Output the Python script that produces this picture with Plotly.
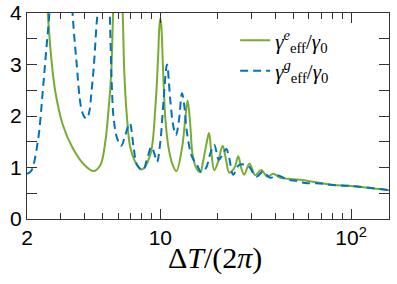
import plotly.graph_objects as go
import numpy as np

# ---- data (x = ΔT/(2π), y = γ_eff/γ0) ----
x_e = [2.52, 2.57, 2.68, 2.81, 3.08, 3.47, 4.00, 4.46, 4.85, 5.15, 5.36, 5.52, 5.63,
       5.72, 5.95, 6.22, 6.35, 6.48, 6.69, 6.97, 7.55, 8.02, 8.86, 9.41, 9.73, 9.88,
       10.0, 10.14, 10.28, 10.62, 11.05, 11.51, 12.13, 12.99, 13.52, 13.90, 14.35,
       14.76, 15.43, 16.2, 16.73, 17.41, 17.99, 18.49, 19.17, 20.12, 21.2, 22.1,
       22.98, 24.5, 25.61, 26.5, 27.54, 29.3, 31.44, 33.8, 36.33, 39.05, 42.5,
       46.8, 54.08, 68.82, 80.5, 100, 158]
y_e = [4.5, 4.0, 3.13, 2.49, 1.83, 1.38, 1.05, 0.93, 1.05, 1.51, 2.15, 2.8, 3.77,
       4.8, 7.0, 4.8, 4.0, 2.8, 1.96, 1.38, 1.05, 0.96, 1.25, 2.15, 3.13, 3.72,
       3.9, 3.7, 3.13, 1.96, 1.38, 1.09, 0.93, 1.38, 1.96, 2.30, 1.83,
       1.25, 0.99, 0.91, 1.11, 1.44, 1.67, 1.31, 0.95, 1.12, 1.42, 1.15,
       0.90, 1.0, 1.22, 1.0, 0.86, 1.08, 0.85, 0.95, 0.82, 0.88, 0.80,
       0.78, 0.76, 0.70, 0.66, 0.64, 0.56]

x_g = [2.0, 2.10, 2.28, 2.42, 2.52, 2.62, 2.75, 3.0, 3.3, 3.48, 3.62, 3.85, 4.00,
       4.12, 4.25, 4.35, 4.48, 4.62, 4.68, 4.8, 5.05, 5.3, 5.43, 5.58, 5.69, 5.93,
       6.23, 6.56, 6.91, 7.25, 7.55, 8.1, 8.5, 8.97, 9.25, 9.61, 10.0, 10.4, 10.84,
       11.28, 11.7, 12.08, 12.5, 12.99, 13.35, 13.8, 14.65, 15.56, 16.39, 17.41,
       18.2, 19.17, 20.25, 21.2, 22.16, 22.98, 24.11, 25.9, 28.9, 31.82, 34.5,
       37.67, 41, 46.8, 52, 57.4, 68.82, 80.5, 100, 158]
y_g = [0.88, 0.93, 1.51, 2.49, 3.26, 4.0, 5.5, 8.0, 5.5, 3.9, 3.13, 2.15, 1.98,
       1.95, 2.1, 2.45, 2.96, 3.73, 4.0, 5.2, 7.0, 5.2, 4.0, 2.49, 1.96, 1.57,
       1.42, 1.64, 1.86, 1.38, 1.05, 0.95, 1.15, 1.4, 1.3, 1.11, 1.5, 2.31, 3.0,
       2.3, 1.8, 1.63, 1.9, 2.44, 2.2, 1.67, 1.21, 1.05, 0.91, 1.0,
       1.25, 1.44, 1.15, 1.25, 1.36, 1.18, 0.86, 1.05, 1.03, 0.82, 0.92,
       0.80, 0.85, 0.76, 0.74, 0.70, 0.69, 0.66, 0.64, 0.56]

x_ticks = [2, 10, 100]
x_ticklabels = ["2", "10", "10<sup>2</sup>"]
x_minor = [3, 4, 5, 6, 7, 8, 9, 20, 30, 40, 50, 60, 70, 80, 90]
y_ticks = [0, 1, 2, 3, 4]
y_ticklabels = ["0", "1", "2", "3", "4"]
y_minor = [0.5, 1.5, 2.5, 3.5]
x_title = "Δ<i>T</i>/(2<i>π</i>)"

GREEN = "#77AC30"
BLUE = "#0072BD"
AX = "#333333"

fig = go.Figure()
fig.add_trace(go.Scatter(
    x=x_e, y=y_e, mode="lines", legendgroup="e",
    line=dict(color=GREEN, width=2, shape="spline", smoothing=1.0),
    name="<i>γ</i><sup><i>e</i></sup><sub>eff</sub>/<i>γ</i><sub>0</sub>"))
fig.add_trace(go.Scatter(
    x=x_g, y=y_g, mode="lines", legendgroup="g",
    line=dict(color=BLUE, width=2, dash="8px,5px", shape="spline", smoothing=1.0),
    name="<i>γ</i><sup><i>g</i></sup><sub>eff</sub>/<i>γ</i><sub>0</sub>"))

fig.update_layout(
    width=397, height=284,
    margin=dict(l=27, r=8, t=13, b=65),
    plot_bgcolor="white", paper_bgcolor="white",
    font=dict(family="Liberation Sans, Arial, sans-serif", size=21, color="black"),
    legend=dict(x=0.575, y=0.965, xanchor="left", yanchor="top",
                bgcolor="rgba(0,0,0,0)", font=dict(family="Liberation Serif, serif", size=21),
                tracegroupgap=0),
    showlegend=True,
    annotations=[dict(text=x_title, xref="paper", yref="paper", x=0.52, y=-0.19,
                      xanchor="center", yanchor="middle", showarrow=False,
                      font=dict(family="Liberation Serif, serif", size=30, color="black"))],
)
fig.update_xaxes(
    type="log", range=[np.log10(2), np.log10(158)],
    tickvals=x_ticks, ticktext=x_ticklabels,
    ticks="inside", ticklen=10, tickwidth=1.2, tickcolor=AX,
    minor=dict(tickvals=x_minor, ticks="inside", ticklen=6, tickwidth=1.2, tickcolor=AX),
    showline=True, linecolor=AX, linewidth=1.3, mirror="allticks",
    showgrid=False, zeroline=False, automargin=False,
)
fig.update_yaxes(
    range=[0, 4], tickvals=y_ticks, ticktext=y_ticklabels,
    ticks="inside", ticklen=10, tickwidth=1.2, tickcolor=AX,
    minor=dict(tickvals=y_minor, ticks="inside", ticklen=10, tickwidth=1.2, tickcolor=AX),
    showline=True, linecolor=AX, linewidth=1.3, mirror="allticks",
    showgrid=False, zeroline=False, automargin=False,
)

fig.write_html("out.html", config={"displayModeBar": False},
               post_script="document.body.style.margin='0';")
